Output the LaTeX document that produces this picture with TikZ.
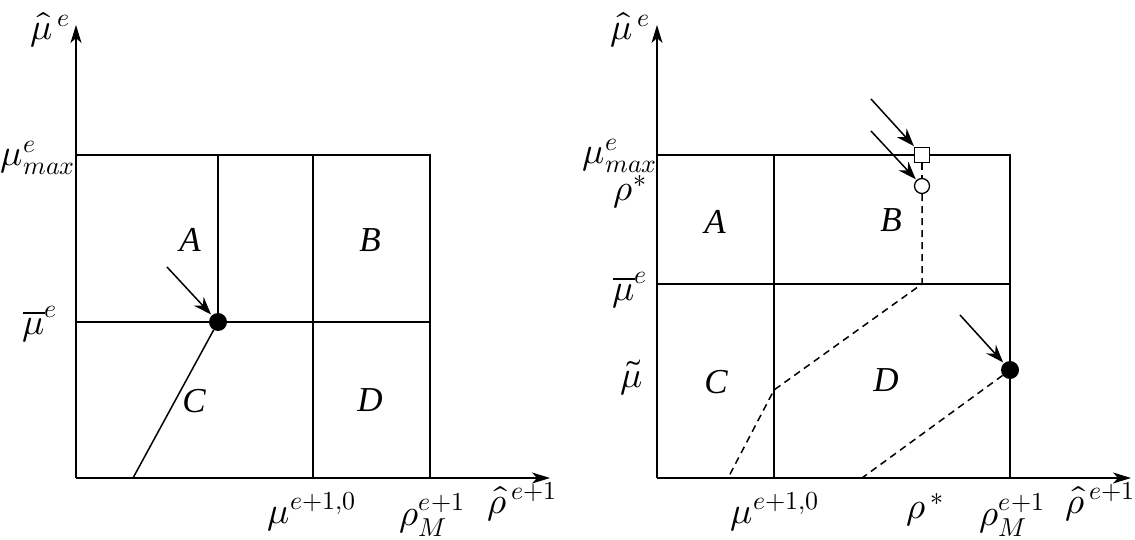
\documentclass[tikz,border=0pt]{standalone}
\usepackage{fontspec}
\usepackage{unicode-math}
\setmainfont{Liberation Serif}
\setmathfont{Latin Modern Math}
\usetikzlibrary{arrows.meta}
\begin{document}
\begin{tikzpicture}[x=1pt,y=-1pt,
  ln/.style={line width=1.5pt},
  axis/.style={line width=1.5pt,-{Stealth[length=18pt,width=11pt,inset=5pt]}},
  pointer/.style={line width=1.5pt,-{Stealth[length=18pt,width=13pt,inset=6pt]},shorten >=1pt},
  dsh/.style={line width=1.5pt,dash pattern=on 7pt off 5pt},
  lbl/.style={font=\fontsize{37}{42}\selectfont,inner sep=0pt},
  region/.style={font=\fontsize{35}{40}\selectfont\itshape,inner sep=0pt},
  bigdot/.style={circle,fill=black,minimum size=18pt,inner sep=0pt},
  opendot/.style={circle,draw,fill=white,line width=1.3pt,minimum size=15pt,inner sep=0pt},
  opensq/.style={rectangle,draw,fill=white,line width=1.3pt,minimum size=15pt,inner sep=0pt}]
\useasboundingbox (0,0) rectangle (1135,540);
% ---------------- left panel ----------------
\draw[ln] (76,155) -- (430,155) -- (430,478);
\draw[ln] (218,155) -- (218,322);
\draw[ln] (313,155) -- (313,478);
\draw[ln] (76,322) -- (430,322);
\draw[axis] (76,478) -- (76,25);
\draw[axis] (76,478) -- (550,478);
\node[bigdot] (ldot) at (218,322) {};
\coordinate (lfoot) at (133,478);
\coordinate (lstart) at (167,267);
\draw[ln] (ldot) -- (lfoot);
\draw[pointer] (lstart) -- (ldot);
\node[region] (lA) at (190,240) {A};
\node[region] (lB) at (370,240) {B};
\node[region] (lC) at (194,401) {C};
\node[region] (lD) at (370,400) {D};
\node[lbl] (lmuhat) at (50,30) {$\hat{\mu}^{\,e}$};
\node[lbl] (lmumax) at (38,158) {$\mu^{e}_{max}$};
\node[lbl] (lmubar) at (40,324) {$\overline{\mu}^{e}$};
\node[lbl] (lmu10) at (312,512) {$\mu^{e+1,0}$};
\node[lbl] (lrhoM) at (432,515) {$\rho^{e+1}_{M}$};
\node[lbl] (lrhohat) at (522,502) {$\hat{\rho}^{\,e+1}$};
% ---------------- right panel ----------------
\draw[ln] (657,155) -- (1010,155) -- (1010,478);
\draw[ln] (774,155) -- (774,478);
\draw[ln] (657,284) -- (1010,284);
\draw[axis] (657,478) -- (657,25);
\draw[axis] (657,478) -- (1131,478);
\node[opensq] (sq) at (922,155) {};
\node[opendot] (circ) at (922,186) {};
\node[bigdot] (rdot) at (1010,370) {};
\coordinate (k1) at (922,284);
\coordinate (k2) at (774,390);
\coordinate (k3) at (728,478);
\coordinate (k4) at (862,478);
\draw[dsh] (sq) -- (circ);
\draw[dsh] (circ) -- (k1) -- (k2) -- (k3);
\draw[dsh] (rdot) -- (k4);
\coordinate (s1) at (871,99);
\coordinate (s2) at (871,131);
\coordinate (s3) at (960,315);
\draw[pointer] (s1) -- (sq);
\draw[pointer] (s2) -- (circ);
\draw[pointer] (s3) -- (rdot);
\node[region] (rA) at (715,222) {A};
\node[region] (rB) at (891,220) {B};
\node[region] (rC) at (716,382) {C};
\node[region] (rD) at (886,380) {D};
\node[lbl] (rmuhat) at (630,30) {$\hat{\mu}^{\,e}$};
\node[lbl] (rmumax) at (620,156) {$\mu^{e}_{max}$};
\node[lbl] (rrho) at (630,192) {$\rho^{*}$};
\node[lbl] (rmubar) at (630,290) {$\overline{\mu}^{e}$};
\node[lbl] (rmutil) at (632,378) {$\tilde{\mu}$};
\node[lbl] (rmu10) at (775,512) {$\mu^{e+1,0}$};
\node[lbl] (rrhos) at (925,510) {$\rho^{\,*}$};
\node[lbl] (rrhoM) at (1012,515) {$\rho^{e+1}_{M}$};
\node[lbl] (rrhohat) at (1100,502) {$\hat{\rho}^{\,e+1}$};
\end{tikzpicture}
\end{document}
